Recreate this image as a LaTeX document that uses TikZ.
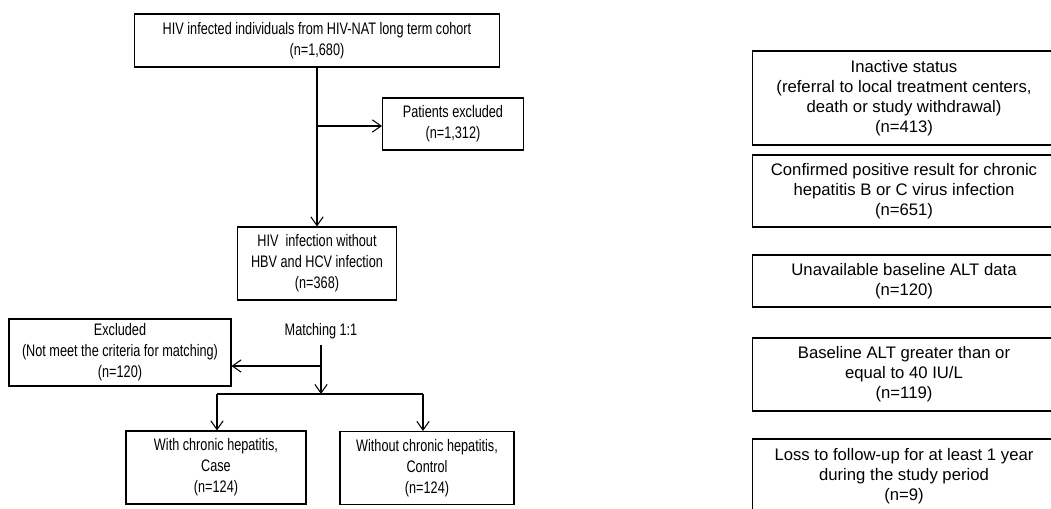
\documentclass[tikz,border=0pt]{standalone}
\usepackage{fontspec}
\setmainfont{Liberation Sans}
\newfontfamily\narrowfont[FakeStretch=0.76]{Liberation Sans}
\usetikzlibrary{arrows.meta, positioning}

\begin{document}
\begin{tikzpicture}[
    x=0.02cm, y=-0.02cm,
    flowbox/.style={draw, line width=0.6pt, align=center, inner sep=2pt, font=\narrowfont\fontsize{9.5}{12}\selectfont},
    reasonbox/.style={draw, line width=0.6pt, align=center, inner sep=2pt, minimum width=6.08cm, font=\fontsize{9.5}{11.4}\selectfont},
    flowarrow/.style={-{Straight Barb[length=5pt, width=7pt]}, line width=0.6pt},
]

% Canvas
\useasboundingbox (0,0) rectangle (1051,508);
\clip (0,0) rectangle (1051,508);

% Main flow
\node[flowbox, minimum width=7.32cm, minimum height=1.06cm] (cohort) at (317, 40.5) {HIV infected individuals from HIV-NAT long term cohort\\(n=1,680)};
\node[flowbox, minimum width=2.82cm, minimum height=1.04cm] (ptexcl) at (453, 124) {Patients excluded\\(n=1,312)};
\node[flowbox, minimum width=3.18cm, minimum height=1.46cm] (hivonly) at (317, 263.5) {HIV\ \ infection without\\HBV and HCV infection\\(n=368)};
\node[font=\narrowfont\fontsize{9.5}{12}\selectfont] (match) at (321, 331) {Matching 1:1};
\node[flowbox, minimum width=4.44cm, minimum height=1.34cm] (mexcl) at (120, 352.5) {Excluded\\(Not meet the criteria for matching)\\(n=120)};
\node[flowbox, minimum width=3.6cm, minimum height=1.46cm] (case) at (216, 467.5) {With chronic hepatitis,\\Case\\(n=124)};
\node[flowbox, minimum width=3.48cm, minimum height=1.46cm] (ctrl) at (427, 468) {Without chronic hepatitis,\\Control\\(n=124)};

% Reasons for exclusion
\node[reasonbox, minimum height=1.88cm] (inactive) at (904, 98) {Inactive status\\(referral to local treatment centers,\\death or study withdrawal)\\(n=413)};
\node[reasonbox, minimum height=1.44cm] (hbvhcv) at (904, 191) {Confirmed positive result for chronic\\hepatitis B or C virus infection\\(n=651)};
\node[reasonbox, minimum height=1.04cm] (noalt) at (904, 281) {Unavailable baseline ALT data\\(n=120)};
\node[reasonbox, minimum height=1.46cm] (highalt) at (904, 374.5) {Baseline ALT greater than or\\equal to 40 IU/L\\(n=119)};
\node[reasonbox, minimum height=1.48cm] (lost) at (904, 476) {Loss to follow-up for at least 1 year\\during the study period\\(n=9)};

% Connectors
\coordinate (exclsplit) at (cohort.south |- 0,126);
\coordinate (matchsplit) at (321, 366);
\coordinate (groupsplit) at (321, 394);
\coordinate (casesplit) at (217, 394);
\coordinate (ctrlsplit) at (423, 394);

\draw[flowarrow] (cohort) -- (hivonly);
\draw[flowarrow] (exclsplit) -- (exclsplit -| ptexcl.west);
\draw[flowarrow] (match.south) -- (groupsplit);
\draw[flowarrow] (matchsplit) -- (matchsplit -| mexcl.east);
\draw[line width=0.6pt] (casesplit) -- (ctrlsplit);
\draw[flowarrow] (casesplit) -- (casesplit |- case.north);
\draw[flowarrow] (ctrlsplit) -- (ctrlsplit |- ctrl.north);

\end{tikzpicture}
\end{document}
